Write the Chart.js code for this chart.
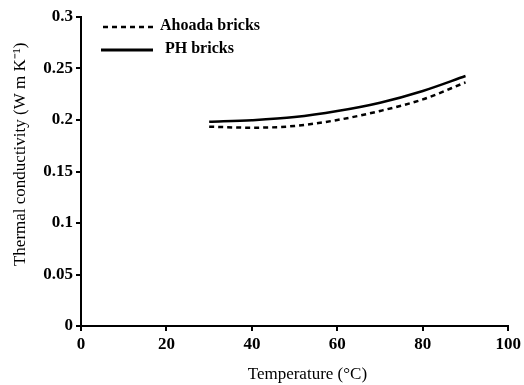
<!DOCTYPE html>
<html>
<head>
<meta charset="utf-8">
<script src="https://cdn.jsdelivr.net/npm/chart.js@4.4.1/dist/chart.umd.min.js"></script>
<style>
  html, body { margin: 0; padding: 0; background: #fff; }
  #wrap { width: 524px; height: 385px; position: relative; }
</style>
</head>
<body>
<div id="wrap"><canvas id="c" width="524" height="385"></canvas></div>
<script>
const temperatures = [30, 40, 50, 60, 70, 80, 90];
const ahoadaValues = [0.1935, 0.1925, 0.1942, 0.2000, 0.2088, 0.2200, 0.2365];
const phValues     = [0.1982, 0.1998, 0.2028, 0.2087, 0.2168, 0.2282, 0.2427];
const seriesNames  = ['Ahoada bricks', 'PH bricks'];
const xTicks = [0, 20, 40, 60, 80, 100];
const yTicks = [0, 0.05, 0.1, 0.15, 0.2, 0.25, 0.3];
const yTickLabels = ['0', '0.05', '0.1', '0.15', '0.2', '0.25', '0.3'];

const toPoints = vals => temperatures.map((t, i) => ({ x: t, y: vals[i] }));

const legendPlugin = {
  id: 'insideLegend',
  afterDraw(chart) {
    const ctx = chart.ctx;
    const rows = [
      { x0: 103, x1: 153, y: 27, tx: 160, ty: 26 },
      { x0: 101, x1: 153, y: 50, tx: 165, ty: 49 }
    ];
    chart.data.datasets.forEach((ds, i) => {
      const r = rows[i];
      ctx.save();
      ctx.strokeStyle = '#000';
      ctx.lineWidth = ds.legendWidth;
      ctx.setLineDash(ds.borderDash || []);
      ctx.beginPath();
      ctx.moveTo(r.x0, r.y);
      ctx.lineTo(r.x1, r.y);
      ctx.stroke();
      ctx.setLineDash([]);
      ctx.fillStyle = '#000';
      ctx.font = 'bold 16px "Liberation Serif", serif';
      ctx.textBaseline = 'middle';
      ctx.textAlign = 'left';
      ctx.fillText(ds.label, r.tx, r.ty);
      ctx.restore();
    });
  }
};

new Chart(document.getElementById('c'), {
  type: 'line',
  data: {
    datasets: [
      {
        label: seriesNames[0],
        data: toPoints(ahoadaValues),
        borderColor: '#000',
        borderWidth: 2.5,
        borderDash: [5, 4],
        legendWidth: 2.5,
        pointRadius: 0,
        tension: 0.4,
        cubicInterpolationMode: 'monotone',
        fill: false
      },
      {
        label: seriesNames[1],
        data: toPoints(phValues),
        borderColor: '#000',
        borderWidth: 2.5,
        legendWidth: 3,
        pointRadius: 0,
        tension: 0.4,
        cubicInterpolationMode: 'monotone',
        fill: false
      }
    ]
  },
  options: {
    responsive: false,
    animation: false,
    devicePixelRatio: 1,
    layout: { padding: { top: 17, right: 15, left: 0, bottom: 0 } },
    plugins: { legend: { display: false }, tooltip: { enabled: false } },
    scales: {
      x: {
        type: 'linear',
        min: 0, max: 100,
        afterBuildTicks: s => { s.ticks = xTicks.map(v => ({ value: v })); },
        afterFit: s => { s.height = 59; },
        border: { display: true, color: '#000', width: 2 },
        grid: { display: true, drawOnChartArea: false, drawTicks: true, tickLength: 5, color: '#000', lineWidth: 2 },
        ticks: {
          color: '#000', padding: 3, maxRotation: 0,
          font: { family: '"Liberation Serif", serif', size: 17, weight: 'bold' }
        },
        title: {
          display: true, text: '      Temperature (°C)', color: '#000',
          padding: { top: 8, bottom: 0 },
          font: { family: '"Liberation Serif", serif', size: 17 }
        }
      },
      y: {
        type: 'linear',
        min: 0, max: 0.3,
        afterBuildTicks: s => { s.ticks = yTicks.map(v => ({ value: v })); },
        afterFit: s => { s.width = 81; },
        border: { display: true, color: '#000', width: 2 },
        grid: { display: true, drawOnChartArea: false, drawTicks: true, tickLength: 5, color: '#000', lineWidth: 2 },
        ticks: {
          color: '#000', padding: 3,
          callback: (v, i) => yTickLabels[yTicks.indexOf(v)] ?? String(v),
          font: { family: '"Liberation Serif", serif', size: 17, weight: 'bold' }
        },
        title: {
          display: true, text: 'Thermal conductivity (W m K⁻¹)      ', color: '#000',
          align: 'end',
          padding: { top: 10, bottom: 2 },
          font: { family: '"Liberation Serif", serif', size: 17 }
        }
      }
    }
  },
  plugins: [legendPlugin]
});
</script>
</body>
</html>
